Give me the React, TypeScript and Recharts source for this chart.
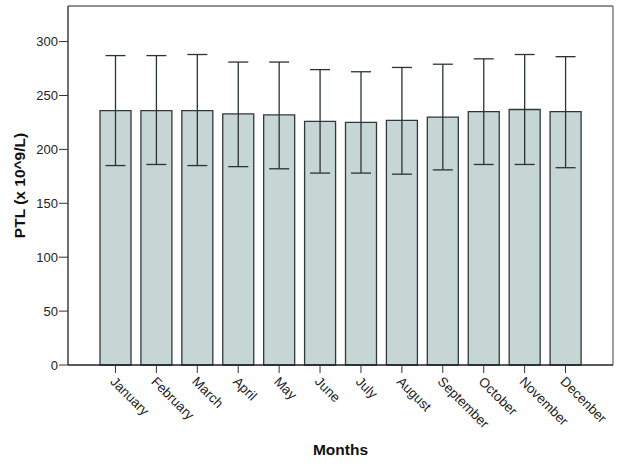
import { BarChart, Bar, XAxis, YAxis, ErrorBar, Label, CartesianGrid } from 'recharts'

const months = ['January', 'February', 'March', 'April', 'May', 'June', 'July', 'August', 'September', 'October', 'November', 'Decenber']
const means = [236, 236, 236, 233, 232, 226, 225, 227, 230, 235, 237, 235]
const upper = [287, 287, 288, 281, 281, 274, 272, 276, 279, 284, 288, 286]
const lower = [185, 186, 185, 184, 182, 178, 178, 177, 181, 186, 186, 183]
const yTicks = [0, 50, 100, 150, 200, 250, 300]

const data = months.map((m, i) => ({
  month: m,
  ptl: means[i],
  err: [means[i] - lower[i], upper[i] - means[i]],
}))

const font = '"Liberation Sans", Arial, sans-serif'

const MonthTick = (props: any) => {
  const { x, y, payload } = props
  return (
    <text
      x={x}
      y={y}
      dy="0.7em"
      dx={1}
      textAnchor="start"
      fontSize={13.5}
      fontFamily={font}
      fill="#222"
      transform={`rotate(45, ${x}, ${y})`}
    >
      {payload.value}
    </text>
  )
}

// top and right edges of the frame
const topEdge = ({ offset }: any) => [offset.top]
const rightEdge = ({ offset }: any) => [offset.left + offset.width]

export default function App() {
  return (
    <div style={{ position: 'absolute', left: 0, top: 0, width: 622, height: 469, background: '#fff' }}>
      <BarChart
        width={622}
        height={469}
        data={data}
        margin={{ top: 6, right: 9, left: 0, bottom: 0 }}
        barCategoryGap={5}
      >
        <CartesianGrid
          stroke="#6e6e6e"
          strokeWidth={1.3}
          horizontalCoordinatesGenerator={topEdge}
          verticalCoordinatesGenerator={rightEdge}
        />
        <XAxis
          dataKey="month"
          height={104}
          interval={0}
          padding={{ left: 27, right: 27 }}
          tick={<MonthTick />}
          tickSize={8}
          tickLine={{ stroke: '#333' }}
          axisLine={{ stroke: '#222', strokeWidth: 1.3 }}
        >
          <Label
            content={(p: any) => {
              const vb = p.viewBox
              return (
                <text x={vb.x + vb.width / 2} y={455} textAnchor="middle" fontSize={15.5} fontWeight="bold" fontFamily={font} fill="#111">
                  Months
                </text>
              )
            }}
          />
        </XAxis>
        <YAxis
          domain={[0, 333]}
          ticks={yTicks}
          width={68}
          tickSize={9}
          tickMargin={1}
          tick={{ fontSize: 13, fontFamily: font, fill: '#222' }}
          tickLine={{ stroke: '#333' }}
          axisLine={{ stroke: '#222', strokeWidth: 1.3 }}
        >
          <Label
            content={(p: any) => {
              const vb = p.viewBox
              const cx = vb.x + 19
              const cy = vb.y + vb.height / 2
              return (
                <text x={cx} y={cy} textAnchor="middle" dominantBaseline="central" fontSize={15.5} fontWeight="bold" fontFamily={font} fill="#111" transform={`rotate(-90, ${cx}, ${cy})`}>
                  PTL (x 10^9/L)
                </text>
              )
            }}
          />
        </YAxis>
        <Bar dataKey="ptl" fill="#c6d6d5" stroke="#2e3a3a" strokeWidth={1.3} isAnimationActive={false}>
          <ErrorBar dataKey="err" width={10} stroke="#2b3333" strokeWidth={1.3} />
        </Bar>
      </BarChart>
    </div>
  )
}
